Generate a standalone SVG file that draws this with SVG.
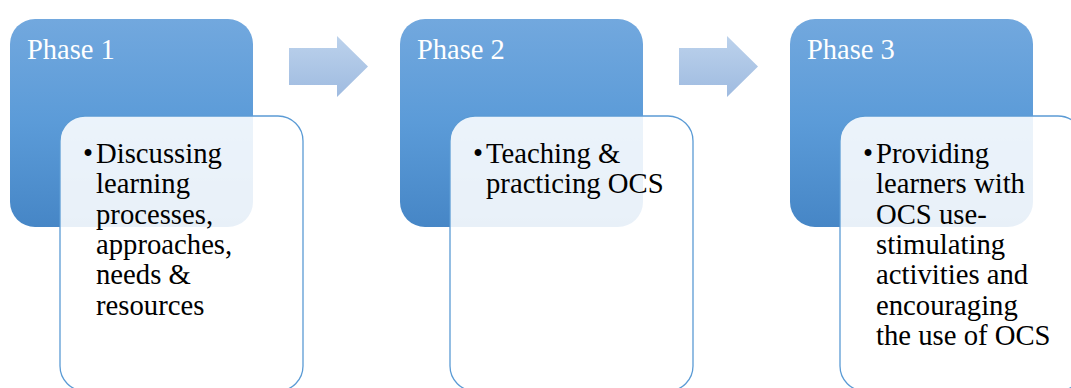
<svg xmlns="http://www.w3.org/2000/svg" width="1071" height="388" viewBox="0 0 1071 388">
<defs>
<linearGradient id="gPhase" x1="0" y1="0" x2="0" y2="1">
<stop offset="0" stop-color="#72A8DE"/>
<stop offset="0.5" stop-color="#5B9BD8"/>
<stop offset="1" stop-color="#4686C6"/>
</linearGradient>
<linearGradient id="gArrow" x1="0" y1="0" x2="0" y2="1">
<stop offset="0" stop-color="#BCD2EC"/>
<stop offset="1" stop-color="#9FBBE0"/>
</linearGradient>
<style>
.phase{fill:url(#gPhase);}
.detail{fill:#FFFFFF;fill-opacity:0.88;stroke:#5B9BD5;stroke-width:1.3;}
.arrow{fill:url(#gArrow);}
.title{font-family:"Liberation Serif","Times New Roman",serif;font-size:28.5px;fill:#FFFFFF;}
.body{font-family:"Liberation Serif","Times New Roman",serif;font-size:28.7px;fill:#000000;}
</style>
</defs>
<g id="connectors">
<path class="arrow" d="M289,48 H337 V36 L368,66.5 L337,97 V85 H289 Z"/>
<path class="arrow" d="M679,48 H727 V36 L758,66.5 L727,97 V85 H679 Z"/>
</g>
<g id="phase1">
<rect class="phase" x="10" y="19" width="243" height="208" rx="25"/>
<text class="title" x="27" y="59">Phase 1</text>
<rect class="detail" x="60" y="116" width="243" height="275" rx="25"/>
<text class="body" x="83" y="163">•</text>
<text class="body"><tspan x="96" y="163">Discussing</tspan><tspan x="96" y="193.3">learning</tspan><tspan x="96" y="223.6">processes,</tspan><tspan x="96" y="253.9">approaches,</tspan><tspan x="96" y="284.2">needs &amp;</tspan><tspan x="96" y="314.5">resources</tspan></text>
</g>
<g id="phase2">
<rect class="phase" x="400" y="19" width="243" height="208" rx="25"/>
<text class="title" x="417" y="59">Phase 2</text>
<rect class="detail" x="450" y="116" width="243" height="275" rx="25"/>
<text class="body" x="473" y="163">•</text>
<text class="body"><tspan x="486" y="163">Teaching &amp;</tspan><tspan x="486" y="193.3">practicing OCS</tspan></text>
</g>
<g id="phase3">
<rect class="phase" x="790" y="19" width="243" height="208" rx="25"/>
<text class="title" x="807" y="59">Phase 3</text>
<rect class="detail" x="840" y="116" width="243" height="275" rx="25"/>
<text class="body" x="863" y="163">•</text>
<text class="body"><tspan x="876" y="163">Providing</tspan><tspan x="876" y="193.3">learners with</tspan><tspan x="876" y="223.6">OCS use-</tspan><tspan x="876" y="253.9">stimulating</tspan><tspan x="876" y="284.2">activities and</tspan><tspan x="876" y="314.5">encouraging</tspan><tspan x="876" y="344.8">the use of OCS</tspan></text>
</g>
</svg>
